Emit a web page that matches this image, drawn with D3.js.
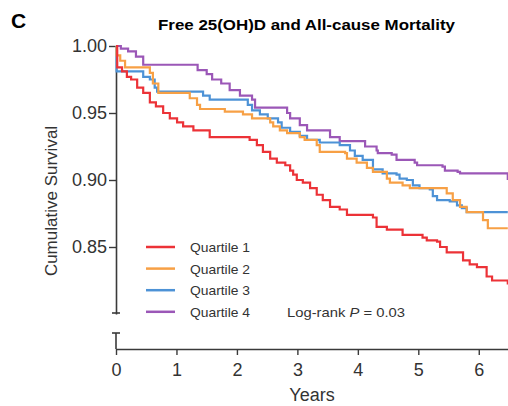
<!DOCTYPE html>
<html>
<head>
<meta charset="utf-8">
<script src="https://cdn.jsdelivr.net/npm/d3@7"></script>
<style>
  body { margin: 0; background: #fff; }
  svg { display: block; font-family: "Liberation Sans", Arial, sans-serif; }
</style>
</head>
<body>
<div id="chart"></div>
<script>
// Kaplan-Meier steps (time in years, survival after the step)
var q1Years = [0, 0.02, 0.10, 0.18, 0.25, 0.35, 0.45, 0.56, 0.66, 0.78, 0.89, 1.01, 1.11, 1.28, 1.55, 2.21, 2.33, 2.43, 2.55, 2.66, 2.80, 2.88, 2.93, 2.99, 3.09, 3.21, 3.32, 3.42, 3.54, 3.70, 3.82, 4.25, 4.31, 4.48, 4.74, 5.07, 5.14, 5.31, 5.36, 5.47, 5.74, 5.85, 5.97, 6.13, 6.22, 6.48];
var q1Surv  = [1.000, 0.984, 0.981, 0.977, 0.975, 0.969, 0.965, 0.958, 0.955, 0.950, 0.946, 0.943, 0.940, 0.937, 0.932, 0.930, 0.926, 0.921, 0.916, 0.913, 0.911, 0.907, 0.904, 0.900, 0.898, 0.894, 0.889, 0.885, 0.880, 0.878, 0.874, 0.872, 0.865, 0.863, 0.859, 0.857, 0.855, 0.854, 0.850, 0.846, 0.840, 0.837, 0.835, 0.828, 0.825, 0.822];

var q2Years = [0, 0.01, 0.07, 0.15, 0.56, 0.61, 0.70, 1.22, 1.34, 1.39, 1.80, 2.10, 2.25, 2.55, 2.60, 2.71, 2.83, 3.04, 3.12, 3.32, 3.37, 3.79, 3.82, 3.98, 4.15, 4.25, 4.48, 4.53, 4.74, 4.86, 5.47, 5.57, 5.69, 5.80, 6.07, 6.15, 6.48];
var q2Surv  = [1.000, 0.993, 0.989, 0.984, 0.980, 0.972, 0.965, 0.961, 0.956, 0.953, 0.951, 0.949, 0.946, 0.943, 0.940, 0.937, 0.935, 0.932, 0.930, 0.926, 0.921, 0.920, 0.916, 0.913, 0.909, 0.906, 0.901, 0.898, 0.896, 0.894, 0.890, 0.885, 0.880, 0.876, 0.870, 0.864, 0.864];

var q3Years = [0, 0.01, 0.45, 0.56, 0.64, 0.68, 1.44, 1.55, 2.18, 2.25, 2.38, 2.51, 2.68, 2.74, 2.88, 3.04, 3.16, 3.37, 3.70, 3.87, 3.95, 4.08, 4.25, 4.41, 4.64, 4.69, 4.81, 4.91, 5.02, 5.19, 5.24, 5.31, 5.52, 5.64, 5.72, 5.80, 6.48];
var q3Surv  = [1.000, 0.981, 0.977, 0.975, 0.969, 0.966, 0.963, 0.960, 0.956, 0.952, 0.949, 0.946, 0.943, 0.939, 0.936, 0.933, 0.930, 0.928, 0.926, 0.922, 0.918, 0.915, 0.908, 0.905, 0.904, 0.901, 0.900, 0.896, 0.894, 0.893, 0.888, 0.885, 0.884, 0.881, 0.879, 0.876, 0.876];

var q4Years = [0, 0.08, 0.20, 0.33, 0.45, 1.35, 1.50, 1.59, 1.74, 1.88, 2.05, 2.25, 2.30, 2.83, 2.88, 3.04, 3.16, 3.54, 3.70, 4.12, 4.31, 4.33, 4.56, 4.64, 4.94, 4.98, 5.40, 5.44, 5.65, 5.69, 6.46, 6.48];
var q4Surv  = [1.000, 0.998, 0.996, 0.992, 0.986, 0.982, 0.979, 0.975, 0.972, 0.967, 0.963, 0.960, 0.954, 0.950, 0.946, 0.941, 0.937, 0.932, 0.929, 0.925, 0.922, 0.920, 0.919, 0.915, 0.913, 0.911, 0.910, 0.907, 0.906, 0.905, 0.905, 0.900];

var groupNames = ['Quartile 1', 'Quartile 2', 'Quartile 3', 'Quartile 4'];
var groupColors = ['#ec3237', '#f7a045', '#4d92d6', '#9b57b7'];
var xTicks = [0, 1, 2, 3, 4, 5, 6];
var yTicks = [0.85, 0.90, 0.95, 1.00];

var width = 508, height = 406;
var axisColor = '#3a3a3a';

var svg = d3.select('#chart').append('svg')
    .attr('width', width)
    .attr('height', height);

var x = d3.scaleLinear().domain([0, 6.5]).range([116, 509]);
var y = d3.scaleLinear().domain([0.80, 1.00]).range([314, 46]);
var xAxisY = 349;

// panel letter + title (the source figure is a bit stretched horizontally)
svg.append('text')
    .attr('x', 11).attr('y', 28)
    .style('font-size', '21px').style('font-weight', 'bold')
    .text('C');

svg.append('text')
    .attr('x', 158).attr('y', 30)
    .attr('textLength', 297)
    .attr('lengthAdjust', 'spacingAndGlyphs')
    .style('font-size', '14px').style('font-weight', 'bold')
    .text('Free 25(OH)D and All-cause Mortality');

// y axis (upper part, broken near the bottom)
var yAxis = svg.append('g')
    .attr('transform', 'translate(' + x(0) + ',0)')
    .call(d3.axisLeft(y).tickValues(yTicks).tickFormat(d3.format('.2f')).tickSize(7).tickSizeOuter(0).tickPadding(2));
yAxis.select('.domain').attr('stroke', axisColor).attr('stroke-width', 1.6);
yAxis.selectAll('.tick line').attr('stroke', axisColor).attr('stroke-width', 1.4);
yAxis.selectAll('.tick text')
    .attr('fill', '#333')
    .style('font-size', '18px')
    .style('font-family', '"Liberation Sans", Arial, sans-serif');

// break caps and lower stub of the y axis
var brk = svg.append('g').attr('stroke', axisColor).attr('stroke-width', 1.6);
brk.append('line').attr('x1', x(0) - 4).attr('x2', x(0) + 4).attr('y1', 313).attr('y2', 313);
brk.append('line').attr('x1', x(0) - 4).attr('x2', x(0) + 4).attr('y1', 333).attr('y2', 333);
brk.append('line').attr('x1', x(0)).attr('x2', x(0)).attr('y1', 333).attr('y2', xAxisY);

// x axis
var xAxis = svg.append('g')
    .attr('transform', 'translate(0,' + xAxisY + ')')
    .call(d3.axisBottom(x).tickValues(xTicks).tickFormat(d3.format('d')).tickSize(6).tickSizeOuter(0).tickPadding(8));
xAxis.select('.domain').attr('stroke', axisColor).attr('stroke-width', 1.6);
xAxis.selectAll('.tick line').attr('stroke', axisColor).attr('stroke-width', 1.4);
xAxis.selectAll('.tick text')
    .attr('fill', '#333')
    .style('font-size', '18px')
    .style('font-family', '"Liberation Sans", Arial, sans-serif');

// axis titles
svg.append('text')
    .attr('x', 312).attr('y', 401)
    .attr('text-anchor', 'middle')
    .attr('fill', '#333')
    .style('font-size', '18px')
    .text('Years');

svg.append('text')
    .attr('transform', 'translate(57,201) rotate(-90)')
    .attr('text-anchor', 'middle')
    .attr('fill', '#333')
    .style('font-size', '17px')
    .text('Cumulative Survival');

// survival curves
var series = [
    {years: q1Years, surv: q1Surv},
    {years: q2Years, surv: q2Surv},
    {years: q3Years, surv: q3Surv},
    {years: q4Years, surv: q4Surv}
];
series.forEach(function (s, i) {
    s.points = s.years.map(function (t, j) { return [t, s.surv[j]]; });
    s.color = groupColors[i];
    s.name = groupNames[i];
});

var line = d3.line()
    .x(function (d) { return x(d[0]); })
    .y(function (d) { return y(d[1]); })
    .curve(d3.curveStepAfter);

// draw Q1 last so red stays on top like the original
svg.append('g').selectAll('path')
    .data(series.slice().reverse())
    .enter()
    .append('path')
    .attr('d', function (d) { return line(d.points); })
    .attr('fill', 'none')
    .attr('stroke', function (d) { return d.color; })
    .attr('stroke-width', 2.2);

// legend
var legend = svg.append('g').selectAll('g')
    .data(series)
    .enter()
    .append('g')
    .attr('transform', function (d, i) { return 'translate(146,' + (247 + i * 21.6) + ')'; });
legend.append('line')
    .attr('x1', 0).attr('x2', 29)
    .attr('stroke', function (d) { return d.color; })
    .attr('stroke-width', 2.5);
legend.append('text')
    .attr('x', 44).attr('y', 5)
    .attr('textLength', 60)
    .attr('lengthAdjust', 'spacingAndGlyphs')
    .attr('fill', '#333')
    .style('font-size', '13.5px')
    .text(function (d) { return d.name; });

var lr = svg.append('text')
    .attr('x', 287).attr('y', 317)
    .attr('textLength', 118)
    .attr('lengthAdjust', 'spacingAndGlyphs')
    .attr('fill', '#333')
    .style('font-size', '13.5px');
lr.append('tspan').text('Log-rank ');
lr.append('tspan').style('font-style', 'italic').text('P');
lr.append('tspan').text(' = 0.03');
</script>
</body>
</html>
